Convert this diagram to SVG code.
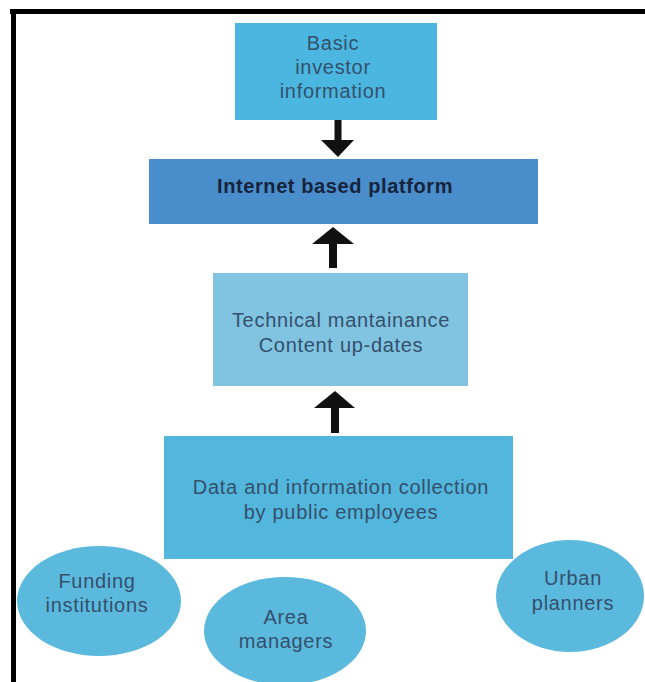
<svg xmlns="http://www.w3.org/2000/svg" width="645" height="682" viewBox="0 0 645 682">
  <style>
    .lbl { font-family: "Liberation Sans", Arial, sans-serif; font-size: 20px; letter-spacing: 0.7px; fill: #34506c; text-anchor: middle; }
    .dark { fill: #16233c; font-weight: bold; letter-spacing: 0.6px; }
    .arrow { fill: #111111; }
  </style>
  <rect width="645" height="682" fill="#ffffff"/>

  <!-- frame: top and left rules -->
  <rect x="10" y="9" width="635" height="5" fill="#000000"/>
  <rect x="11" y="9" width="5" height="673" fill="#000000"/>

  <g id="basic-investor-info">
    <rect x="235" y="23" width="202" height="97" fill="#4bb6e0"/>
    <text class="lbl" x="333" y="50">Basic</text>
    <text class="lbl" x="333" y="74">investor</text>
    <text class="lbl" x="333" y="98">information</text>
  </g>

  <g id="internet-platform">
    <rect x="149" y="159" width="389" height="65" fill="#4a8dcb"/>
    <text class="lbl dark" x="335" y="193">Internet based platform</text>
  </g>

  <g id="technical-maintenance">
    <rect x="213" y="273" width="255" height="113" fill="#80c4e2"/>
    <text class="lbl" x="341" y="327">Technical mantainance</text>
    <text class="lbl" x="341" y="352">Content up-dates</text>
  </g>

  <g id="data-collection">
    <rect x="164" y="436" width="349" height="123" fill="#52b6dd"/>
    <text class="lbl" x="341" y="494">Data and information collection</text>
    <text class="lbl" x="341" y="519">by public employees</text>
  </g>

  <g id="funding-institutions">
    <ellipse cx="99" cy="601" rx="82" ry="55" fill="#5bb9de"/>
    <text class="lbl" x="97" y="588">Funding</text>
    <text class="lbl" x="97" y="612">institutions</text>
  </g>

  <g id="area-managers">
    <ellipse cx="285" cy="631" rx="81" ry="54" fill="#5bb9de"/>
    <text class="lbl" x="286" y="624">Area</text>
    <text class="lbl" x="286" y="648">managers</text>
  </g>

  <g id="urban-planners">
    <ellipse cx="570" cy="596" rx="74" ry="56" fill="#5bb9de"/>
    <text class="lbl" x="573" y="585">Urban</text>
    <text class="lbl" x="573" y="610">planners</text>
  </g>

  <g id="connectors">
    <!-- info -> platform -->
    <path class="arrow" d="M334.5 120 H341.5 V140 H354 L338 157 L321 140 H334.5 Z"/>
    <!-- maintenance -> platform -->
    <path class="arrow" d="M329 268 H337 V244 H354 L333 227 L312 244 H329 Z"/>
    <!-- collection -> maintenance -->
    <path class="arrow" d="M331 433 H339 V408 H355 L335 391 L314 408 H331 Z"/>
  </g>
</svg>
